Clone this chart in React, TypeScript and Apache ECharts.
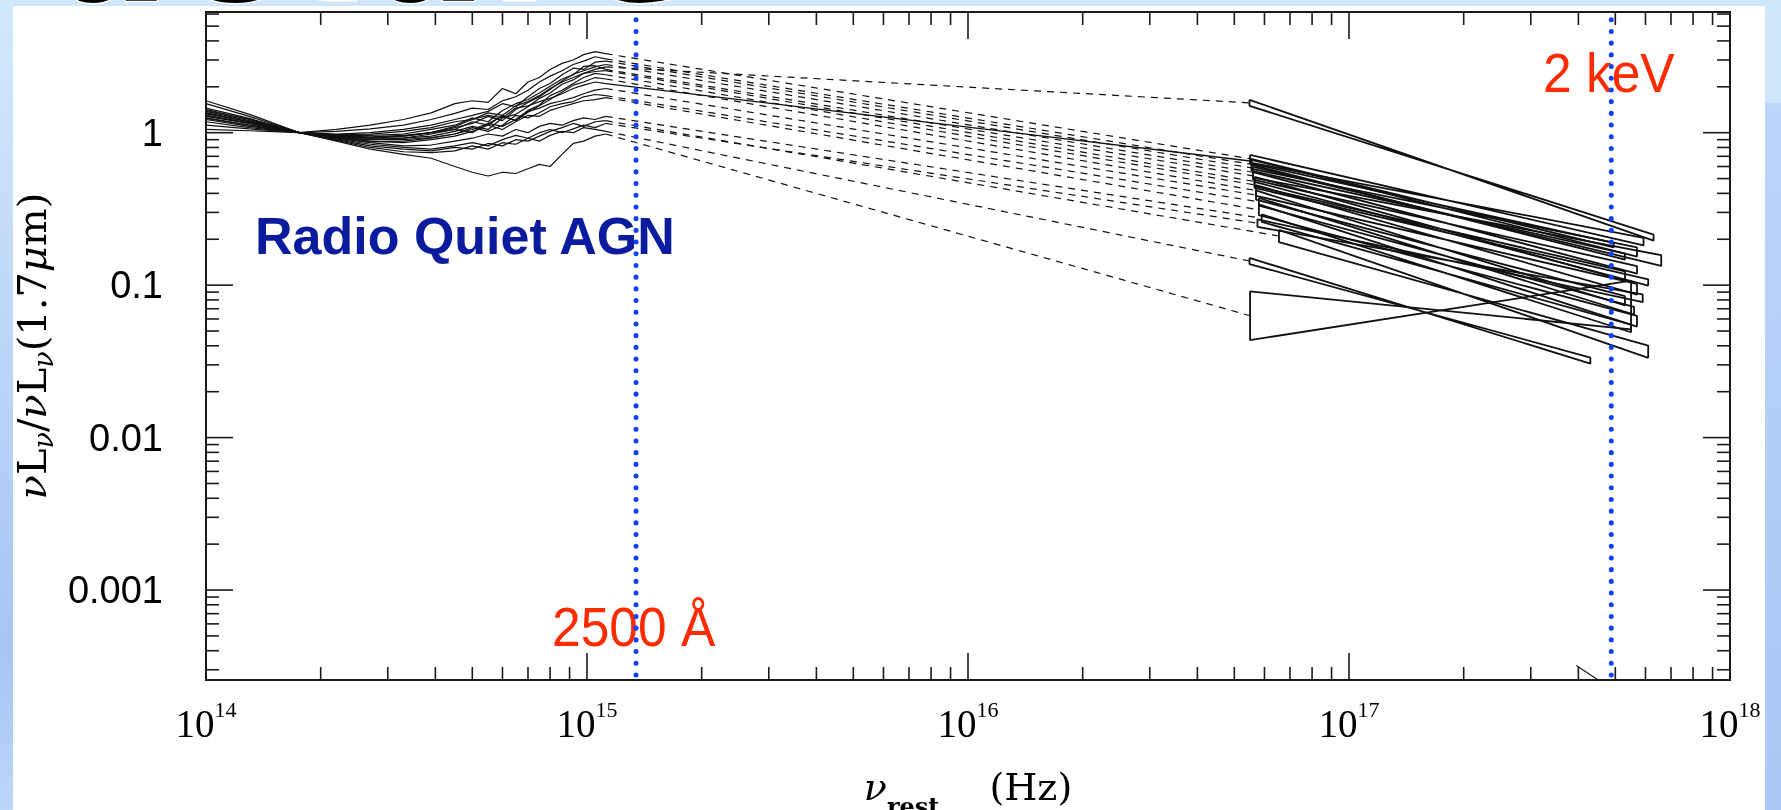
import React, { useEffect, useRef } from "react";
import * as echarts from "echarts";

// ---------------- axes ----------------
const X_MIN = 1e14;
const X_MAX = 1e18;
const Y_MIN = 2.57e-4;
const Y_MAX = 6.19;
const xDecades = [14, 15, 16, 17, 18];
const yDecades = [-4, -3, -2, -1, 0];
const yTickLabels: Record<string, string> = { "-3": "0.001", "-2": "0.01", "-1": "0.1", "0": "1" };
const minorSteps = [2, 3, 4, 5, 6, 7, 8, 9];

// reference frequencies (Hz)
const nu2500A = 1.345e15;
const nu2keV = 4.88e17;

// ---------------- optical / UV spectra (normalised at 1.7 micron) ----------------
const uvFreq = [1.0e14, 1.3e14, 1.76e14, 2.2e14, 2.7e14, 3.3e14, 3.9e14, 4.5e14, 5.0e14, 5.5e14, 6.0e14, 6.5e14, 7.0e14, 7.5e14, 8.0e14, 8.6e14, 9.2e14, 9.8e14, 1.05e15, 1.12e15];

const uvSpectra: number[][] = [
  [1.45, 1.24, 1.0, 0.97, 0.98, 1.02, 1.08, 1.18, 1.22, 1.35, 1.3, 1.5, 1.6, 1.75, 1.95, 2.15, 2.3, 2.45, 2.6, 2.7],
  [1.62, 1.32, 1.0, 1.05, 1.12, 1.22, 1.35, 1.55, 1.62, 1.58, 1.95, 1.8, 2.15, 2.3, 2.6, 2.85, 3.0, 3.25, 3.4, 3.3],
  [1.55, 1.28, 1.0, 1.02, 1.06, 1.12, 1.22, 1.34, 1.45, 1.42, 1.62, 1.72, 1.9, 2.15, 2.35, 2.55, 2.8, 2.95, 3.15, 3.05],
  [1.18, 1.08, 1.0, 0.98, 1.0, 1.05, 1.12, 1.22, 1.3, 1.38, 1.55, 1.48, 1.72, 1.95, 2.1, 2.4, 2.65, 2.6, 2.9, 2.95],
  [1.38, 1.2, 1.0, 0.95, 0.93, 0.95, 1.0, 1.08, 1.15, 1.28, 1.2, 1.42, 1.58, 1.72, 1.92, 2.18, 2.42, 2.55, 2.7, 2.8],
  [1.42, 1.22, 1.0, 0.96, 0.96, 0.98, 1.05, 1.12, 1.25, 1.18, 1.4, 1.55, 1.65, 1.82, 2.02, 2.25, 2.4, 2.72, 2.75, 2.6],
  [1.35, 1.18, 1.0, 0.94, 0.92, 0.92, 0.95, 1.02, 1.1, 1.05, 1.25, 1.32, 1.48, 1.68, 1.82, 2.08, 2.22, 2.45, 2.52, 2.55],
  [1.05, 1.03, 1.0, 0.93, 0.9, 0.9, 0.93, 0.98, 1.05, 1.15, 1.1, 1.22, 1.4, 1.52, 1.75, 1.9, 2.1, 2.3, 2.45, 2.4],
  [1.3, 1.16, 1.0, 0.95, 0.94, 0.96, 1.0, 1.05, 1.18, 1.12, 1.3, 1.2, 1.36, 1.5, 1.65, 1.85, 2.05, 2.15, 2.3, 2.25],
  [1.4, 1.22, 1.0, 0.95, 0.92, 0.95, 1.0, 1.1, 1.22, 1.3, 1.25, 1.45, 1.5, 1.6, 1.68, 1.8, 1.95, 2.05, 2.15, 2.1],
  [1.28, 1.15, 1.0, 0.93, 0.9, 0.92, 0.98, 1.05, 1.0, 1.15, 1.28, 1.2, 1.38, 1.45, 1.55, 1.62, 1.7, 1.8, 1.9, 1.95],
  [1.12, 1.06, 1.0, 0.92, 0.87, 0.88, 0.92, 0.98, 1.08, 1.02, 1.12, 1.3, 1.25, 1.35, 1.48, 1.55, 1.6, 1.72, 1.78, 1.75],
  [1.33, 1.18, 1.0, 0.93, 0.88, 0.86, 0.9, 0.95, 1.02, 1.12, 1.05, 1.18, 1.3, 1.28, 1.4, 1.48, 1.55, 1.62, 1.65, 1.7],
  [1.35, 1.18, 1.0, 0.92, 0.86, 0.82, 0.83, 0.88, 0.92, 0.98, 0.95, 1.05, 1.0, 1.1, 1.15, 1.12, 1.2, 1.25, 1.22, 1.28],
  [1.3, 1.15, 1.0, 0.9, 0.82, 0.78, 0.76, 0.8, 0.78, 0.85, 0.82, 0.9, 0.88, 0.95, 1.02, 1.08, 1.15, 1.1, 1.18, 1.2],
  [1.22, 1.1, 1.0, 0.89, 0.8, 0.75, 0.74, 0.76, 0.82, 0.78, 0.86, 0.84, 0.92, 0.88, 0.96, 1.02, 1.0, 1.08, 1.05, 1.02],
  [1.24, 1.12, 1.0, 0.91, 0.84, 0.8, 0.78, 0.82, 0.86, 0.82, 0.9, 0.96, 0.92, 1.0, 1.05, 1.0, 1.06, 1.12, 1.08, 1.15],
  [1.25, 1.12, 1.0, 0.88, 0.78, 0.72, 0.68, 0.6, 0.55, 0.52, 0.55, 0.54, 0.58, 0.62, 0.6, 0.72, 0.85, 0.88, 0.95, 0.98],
];

// ---------------- X-ray power laws (bow ties), one per object ----------------
const xrayNuStart = [5.48e16, 5.5e16, 5.55e16, 5.55e16, 5.6e16, 5.6e16, 5.65e16, 5.65e16, 5.7e16, 5.5e16, 5.7e16, 5.8e16, 5.8e16, 5.9e16, 6.55e16, 5.48e16, 5.75e16, 5.5e16];
const xrayLStart = [1.57, 0.675, 0.62, 0.588, 0.55, 0.521, 0.479, 0.455, 0.418, 0.652, 0.39, 0.352, 0.312, 0.275, 0.21, 0.144, 0.255, 0.063];
const xrayNuEnd = [6.3e17, 5.93e17, 5.7e17, 5.3e17, 6.6e17, 5.7e17, 5.3e17, 6.1e17, 5.7e17, 4.95e17, 5.3e17, 5.6e17, 5.7e17, 5.5e17, 6.1e17, 4.3e17, 5.9e17, 5.5e17];
const xrayLEnd = [0.205, 0.193, 0.165, 0.154, 0.145, 0.126, 0.115, 0.104, 0.094, 0.183, 0.079, 0.068, 0.058, 0.052, 0.0366, 0.032, 0.082, 0.074];
const xrayErrDex = [0.02, 0.025, 0.03, 0.02, 0.035, 0.025, 0.03, 0.02, 0.035, 0.015, 0.03, 0.025, 0.035, 0.025, 0.04, 0.02, 0.025, 0.16];
const solidLinkIndex = 9;

// short stray segment near the bottom
const strayNu = [3.95e17, 4.7e17];
const strayL = [3.2e-4, 2.4e-4];

function buildOption(): any {
  const ink = "#111";
  const series: any[] = [];
  const base = { type: "line", symbol: "none", showSymbol: false, silent: true, animation: false, z: 3 };

  uvSpectra.forEach((row, i) => {
    series.push({ ...base, data: uvFreq.map((f, j) => [f, row[j]]), lineStyle: { color: ink, width: 1.2 } });
    const last = row.length - 1;
    const solid = i === solidLinkIndex;
    series.push({
      ...base,
      data: [[uvFreq[last], row[last]], [xrayNuStart[i], xrayLStart[i]]],
      lineStyle: { color: ink, width: solid ? 1.4 : 1.2, type: solid ? "solid" : [7, 6] },
    });
    const e = Math.pow(10, xrayErrDex[i]);
    const n0 = xrayNuStart[i], n1 = xrayNuEnd[i], l0 = xrayLStart[i], l1 = xrayLEnd[i];
    series.push({
      ...base,
      data: [[n0, l0 * e], [n1, l1 / e], [n1, l1 * e], [n0, l0 / e], [n0, l0 * e]],
      lineStyle: { color: ink, width: 1.8 },
    });
  });

  series.push({ ...base, data: strayNu.map((n, i) => [n, strayL[i]]), lineStyle: { color: ink, width: 1.1 } });

  const dotted = { color: "#1040ff", width: 5, type: [0.1, 11.6], cap: "round", dashOffset: 3.7 };
  series.push({ ...base, z: 10, data: [[nu2500A, Y_MAX], [nu2500A, Y_MIN]], lineStyle: dotted });
  series.push({ ...base, z: 10, data: [[nu2keV, Y_MAX], [nu2keV, Y_MIN]], lineStyle: dotted });

  // tick marks on all four sides
  const tickData: number[][] = [];
  xDecades.forEach((d) => {
    tickData.push([Math.pow(10, d), 1, 1]);
    if (d < 18) minorSteps.forEach((m) => tickData.push([m * Math.pow(10, d), 1, 0]));
  });
  yDecades.forEach((d) => {
    if (d >= -3) tickData.push([1e15, Math.pow(10, d), 3]);
    minorSteps.forEach((m) => {
      const v = m * Math.pow(10, d);
      if (v > Y_MIN && v < Y_MAX) tickData.push([1e15, v, 2]);
    });
  });
  series.push({
    type: "custom",
    silent: true,
    z: 5,
    clip: false,
    encode: { x: 0, y: 1 },
    data: tickData,
    renderItem: (params: any, api: any) => {
      const cs = params.coordSys;
      const kind = api.value(2);
      const style = { stroke: "#1a1a1a", lineWidth: 1.6 };
      if (kind <= 1) {
        const px = api.coord([api.value(0), 1])[0];
        const len = kind === 1 ? 27 : 13;
        const yb = cs.y + cs.height;
        const yt = cs.y;
        return {
          type: "group",
          children: [
            { type: "line", shape: { x1: px, y1: yb, x2: px, y2: yb - len }, style },
            { type: "line", shape: { x1: px, y1: yt, x2: px, y2: yt + len }, style },
          ],
        };
      }
      const py = api.coord([1e15, api.value(1)])[1];
      const len = kind === 3 ? 27 : 13;
      const xl = cs.x;
      const xr = cs.x + cs.width;
      return {
        type: "group",
        children: [
          { type: "line", shape: { x1: xl, y1: py, x2: xl + len, y2: py }, style },
          { type: "line", shape: { x1: xr, y1: py, x2: xr - len, y2: py }, style },
        ],
      };
    },
  });

  const serif = "Liberation Serif";
  const nameSerif = "DejaVu Serif";

  return {
    animation: false,
    backgroundColor: "transparent",
    grid: {
      left: 206, top: 12, width: 1524, height: 668,
      containLabel: false, outerBoundsMode: "none",
      show: true, borderColor: "#1a1a1a", borderWidth: 2, backgroundColor: "transparent",
    },
    xAxis: {
      type: "log",
      logBase: 10,
      min: X_MIN,
      max: X_MAX,
      splitNumber: 4,
      axisLine: { show: true, lineStyle: { color: "#1a1a1a", width: 2 } },
      axisTick: { show: false },
      splitLine: { show: false },
      axisLabel: {
        margin: 18,
        formatter: (v: number) => `{b|10}{s|${Math.round(Math.log10(v))}}`,
        rich: {
          b: { fontFamily: serif, fontSize: 39, lineHeight: 45, verticalAlign: "bottom", color: "#000" },
          s: { fontFamily: serif, fontSize: 22, lineHeight: 20, verticalAlign: "top", color: "#000" },
        },
      },
      name: "{nu|ν}{sub|rest}{n|(Hz)}",
      nameLocation: "middle",
      nameGap: 88,
      nameTextStyle: {
        rich: {
          nu: { fontFamily: nameSerif, fontStyle: "italic", fontSize: 38, lineHeight: 50, verticalAlign: "top", color: "#000" },
          sub: { fontFamily: nameSerif, fontWeight: "bold", fontSize: 24, lineHeight: 50, verticalAlign: "top", color: "#000", padding: [26, 50, 0, 0] },
          n: { fontFamily: nameSerif, fontSize: 38, lineHeight: 50, verticalAlign: "top", color: "#000" },
        },
      },
    },
    yAxis: {
      type: "log",
      logBase: 10,
      min: Y_MIN,
      max: Y_MAX,
      axisLine: { show: true, lineStyle: { color: "#1a1a1a", width: 2 } },
      axisTick: { show: false },
      splitLine: { show: false },
      axisLabel: {
        margin: 43,
        fontFamily: "Liberation Sans",
        fontSize: 38,
        color: "#000",
        formatter: (v: number) => {
          const lg = Math.log10(v);
          const r = Math.round(lg);
          if (Math.abs(lg - r) > 1e-6) return "";
          return yTickLabels[String(r)] ?? "";
        },
      },
      name: "{i|ν}{n|L}{s|ν}{n|/}{i|ν}{n|L}{s|ν}{n|(1.7}{i|μ}{n|m)}",
      nameLocation: "middle",
      nameRotate: 90,
      nameGap: 147,
      nameTextStyle: {
        rich: {
          i: { fontFamily: nameSerif, fontStyle: "italic", fontSize: 40, lineHeight: 45, verticalAlign: "top", color: "#000" },
          n: { fontFamily: nameSerif, fontSize: 40, lineHeight: 45, verticalAlign: "top", color: "#000" },
          s: { fontFamily: nameSerif, fontStyle: "italic", fontSize: 27, lineHeight: 45, verticalAlign: "top", color: "#000", padding: [18, 0, 0, 0] },
        },
      },
    },
    graphic: [
      { type: "rect", z: -20, silent: true, shape: { x: 0, y: 0, width: 1781, height: 810 }, style: { fill: "#cfe6fb" } },
      {
        type: "rect", z: -19, silent: true, shape: { x: 0, y: 0, width: 13, height: 810 },
        style: { fill: { type: "linear", x: 0, y: 0, x2: 0, y2: 1, colorStops: [{ offset: 0, color: "#d3e9fc" }, { offset: 0.8, color: "#a9c5f4" }, { offset: 1, color: "#bcd6f8" }] } },
      },
      { type: "rect", z: -18, silent: true, shape: { x: 13, y: 6, width: 1752, height: 804 }, style: { fill: "#ffffff" } },
      {
        type: "text", z: -17, silent: true, x: 45, y: 27,
        style: { text: "ucture", font: 'bold 178px "DejaVu Sans"', fill: "#000", stroke: "#fff", lineWidth: 3, textVerticalAlign: "bottom" },
      },
      {
        type: "text", z: 1, silent: true, x: 255, y: 236,
        style: { text: "Radio Quiet AGN", font: 'bold 52px "Liberation Sans"', fill: "#0b1b9e", textVerticalAlign: "middle" },
      },
      {
        type: "text", z: 1, silent: true, x: 552, y: 626, scaleX: 0.92,
        style: { text: "2500 Å", font: '56px "Liberation Sans"', fill: "#ff2b00", textVerticalAlign: "middle" },
      },
      {
        type: "text", z: 1, silent: true, x: 1543, y: 72, scaleX: 0.92,
        style: { text: "2 keV", font: '56px "Liberation Sans"', fill: "#ff2b00", textVerticalAlign: "middle" },
      },
      { type: "rect", z: 100, silent: true, shape: { x: 1765, y: 0, width: 16, height: 103 }, style: { fill: "#cfe6fb" } },
      {
        type: "rect", z: 100, silent: true, shape: { x: 1765, y: 103, width: 16, height: 707 },
        style: { fill: { type: "linear", x: 0, y: 0, x2: 0, y2: 1, colorStops: [{ offset: 0, color: "#bcd5f8" }, { offset: 1, color: "#aac8f5" }] } },
      },
    ],
    series,
  };
}

export default function App() {
  const ref = useRef<HTMLDivElement>(null);
  useEffect(() => {
    if (!ref.current) return;
    const chart = echarts.init(ref.current, null, { renderer: "svg" });
    chart.setOption(buildOption());
    return () => chart.dispose();
  }, []);
  return <div ref={ref} style={{ position: "fixed", left: 0, top: 0, width: 1781, height: 810 }} />;
}
